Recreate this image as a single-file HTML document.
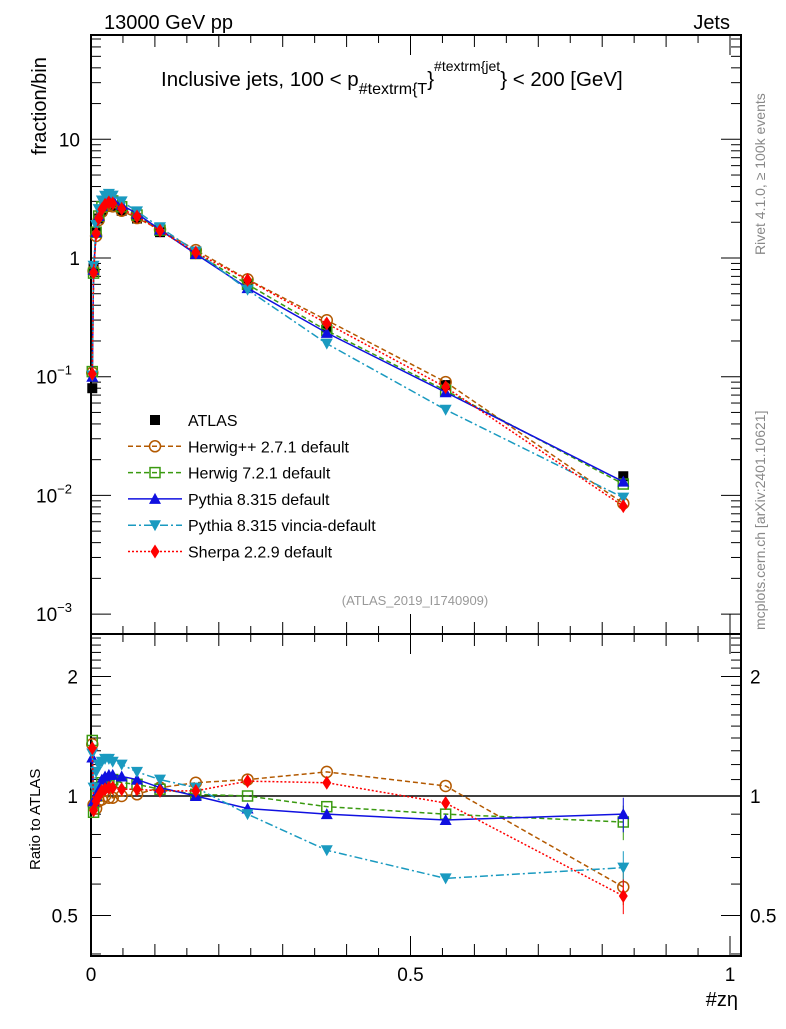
<!DOCTYPE html>
<html><head><meta charset="utf-8"><style>
body{margin:0;background:#fff;}
svg text{font-family:"Liberation Sans",sans-serif;}
</style></head><body>
<svg id="c" width="786" height="1024" viewBox="0 0 786 1024" xmlns="http://www.w3.org/2000/svg">
<text x="104" y="29" font-size="20">13000 GeV pp</text>
<text x="730" y="29" font-size="20" text-anchor="end">Jets</text>
<text x="161" y="86" font-size="20.5">Inclusive jets, 100 &lt; p<tspan font-size="16" dy="8">#textrm{T</tspan><tspan dy="-8">}</tspan><tspan font-size="14" dy="-15">#textrm{jet</tspan><tspan dy="15">} &lt; 200 [GeV]</tspan></text>
<text x="415" y="605" font-size="13" fill="#999" text-anchor="middle">(ATLAS_2019_I1740909)</text>
<text transform="translate(765,255) rotate(-90)" font-size="14" fill="#888">Rivet 4.1.0, ≥ 100k events</text>
<text transform="translate(765,630) rotate(-90)" font-size="14" fill="#888">mcplots.cern.ch [arXiv:2401.10621]</text>
<text transform="translate(46,155) rotate(-90)" font-size="20">fraction/bin</text>
<text transform="translate(40,870) rotate(-90)" font-size="15">Ratio to ATLAS</text>
<text x="738" y="1006" font-size="20" text-anchor="end">#zη</text>
<g id="g"></g>
</svg>
<script>
const xs=[0.002,0.004,0.008,0.012,0.017,0.022,0.028,0.034,0.048,0.072,0.108,0.164,0.245,0.369,0.555,0.833];
const atlas=[0.08,0.82,1.65,2.15,2.5,2.7,2.8,2.75,2.5,2.15,1.65,1.08,0.6,0.26,0.085,0.0145];
const rHpp=[1.35,0.95,0.93,0.97,0.98,1.0,0.99,0.99,1.0,1.01,1.05,1.08,1.1,1.15,1.06,0.59];
const rH7=[1.38,0.91,1.0,1.05,1.08,1.08,1.08,1.1,1.08,1.07,1.04,1.01,1.0,0.94,0.9,0.86];
const rPy=[1.25,0.97,1.0,1.05,1.1,1.12,1.13,1.13,1.12,1.1,1.05,1.0,0.93,0.9,0.87,0.9];
const rVi=[1.28,1.05,1.15,1.2,1.22,1.24,1.24,1.22,1.2,1.15,1.1,1.05,0.9,0.73,0.62,0.66];
const rSh=[1.32,0.92,0.97,1.0,1.03,1.04,1.05,1.05,1.04,1.04,1.03,1.03,1.09,1.08,0.96,0.56];
const yTicks=['10^-3','10^-2','10^-1','1','10'];
const NS='http://www.w3.org/2000/svg';
const g=document.getElementById('g');
const L=91,R=741,T=35,MB=634,RB=956;
const X=v=>91+v*639;
const Y=v=>258-118.7*Math.log10(v);
const YR=v=>796-119.5*Math.log2(v);
function mk(t,a,p){const e=document.createElementNS(NS,t);for(const k in a)e.setAttribute(k,a[k]);(p||g).appendChild(e);return e;}
let f1=mk('rect',{x:L,y:T,width:R-L,height:MB-T,fill:'none',stroke:'#000','stroke-width':2});


let f2=mk('rect',{x:L,y:MB,width:R-L,height:RB-MB,fill:'none',stroke:'#000','stroke-width':2});


for(let d=-3;d<=1;d++){for(let m=1;m<10;m++){const v=m*Math.pow(10,d);const y=Y(v);if(y<T||y>MB)continue;const len=m==1?20:10;
mk('line',{x1:L,x2:L+len,y1:y,y2:y,stroke:'#000','stroke-width':1});mk('line',{x1:R,x2:R-len,y1:y,y2:y,stroke:'#000','stroke-width':1});}}
yTicks.forEach((s,i)=>{const d=i-3;const y=Y(Math.pow(10,d));const t=mk('text',{x:d>=0?80:72,y:y+7,'font-size':19,'text-anchor':'end'});
if(d==0)t.textContent='1';else if(d==1)t.textContent='10';else{t.textContent='10';const ts=mk('tspan',{dy:-9,'font-size':13},t);ts.textContent=String(d).replace('-','−');}

});
[0.4,0.5,0.6,0.7,0.8,0.9,1,1.1,1.2,1.3,1.4,1.5,1.6,1.7,1.8,1.9,2,2.1,2.2,2.3,2.4,2.5].forEach(v=>{const y=YR(v);if(y<MB||y>RB)return;const len=(v==0.5||v==1||v==2)?20:10;
mk('line',{x1:L,x2:L+len,y1:y,y2:y,stroke:'#000'});mk('line',{x1:R,x2:R-len,y1:y,y2:y,stroke:'#000'});});
[[2,'2'],[1,'1'],[0.5,'0.5']].forEach(([v,s])=>{[[78,'end'],[750,'start']].forEach(([x,a])=>{const t=mk('text',{x:x,y:YR(v)+7,'font-size':19,'text-anchor':a});t.textContent=s;

});});
for(let i=0;i<=20;i++){const v=i*0.05;const x=X(v);const len=i%10==0?20:(i%2==0?12:8);
mk('line',{x1:x,x2:x,y1:RB,y2:RB-len,stroke:'#000'});mk('line',{x1:x,x2:x,y1:MB,y2:MB-len,stroke:'#000'});mk('line',{x1:x,x2:x,y1:T,y2:T+len,stroke:'#000'});mk('line',{x1:x,x2:x,y1:MB,y2:MB+len,stroke:'#000'});}
[[0,'0'],[0.5,'0.5'],[1,'1']].forEach(([v,s])=>{const t=mk('text',{x:X(v),y:981,'font-size':19,'text-anchor':'middle'});t.textContent=s;

});
mk('line',{x1:L,x2:R,y1:YR(1),y2:YR(1),stroke:'#000','stroke-width':1.5});
function marker(type,col,x,y,p){
 if(type=='sq')return mk('rect',{x:x-5,y:y-5,width:10,height:10,fill:col},p);
 if(type=='osq')return mk('rect',{x:x-5,y:y-5,width:10,height:10,fill:'none',stroke:col,'stroke-width':1.5},p);
 if(type=='oc')return mk('circle',{cx:x,cy:y,r:5.5,fill:'none',stroke:col,'stroke-width':1.5},p);
 if(type=='tu')return mk('path',{d:`M${x-6},${y+5}L${x+6},${y+5}L${x},${y-6}Z`,fill:col},p);
 if(type=='td')return mk('path',{d:`M${x-6},${y-5}L${x+6},${y-5}L${x},${y+6}Z`,fill:col},p);
 if(type=='di')return mk('path',{d:`M${x},${y-7}L${x+4.5},${y}L${x},${y+7}L${x-4.5},${y}Z`,fill:col},p);
}
const series=[
 {name:'Herwig++ 2.7.1 default',r:rHpp,col:'#b35900',m:'oc',dash:'5,3',id:'herwigpp'},
 {name:'Herwig 7.2.1 default',r:rH7,col:'#3a9a10',m:'osq',dash:'5,3',id:'herwig7'},
 {name:'Pythia 8.315 default',r:rPy,col:'#1010e0',m:'tu',dash:'',id:'pythia'},
 {name:'Pythia 8.315 vincia-default',r:rVi,col:'#1a9ac0',m:'td',dash:'8,3,2,3',id:'vincia'},
 {name:'Sherpa 2.2.9 default',r:rSh,col:'#ff0000',m:'di',dash:'2,2',id:'sherpa'}];
xs.forEach((x,i)=>{const m=marker('sq','#000',X(x),Y(atlas[i]));

});
series.forEach(s=>{
 const grp=mk('g',{});
 
 const pm=xs.map((x,i)=>X(x)+','+Y(atlas[i]*s.r[i])).join(' ');
 mk('polyline',{points:pm,fill:'none',stroke:s.col,'stroke-width':1.5,'stroke-dasharray':s.dash},grp);
 const pr=xs.map((x,i)=>X(x)+','+YR(s.r[i])).join(' ');
 mk('polyline',{points:pr,fill:'none',stroke:s.col,'stroke-width':1.5,'stroke-dasharray':s.dash},grp);
 xs.forEach((x,i)=>{const m1=marker(s.m,s.col,X(x),Y(atlas[i]*s.r[i]),grp);
 
 
 const m2=marker(s.m,s.col,X(x),YR(s.r[i]),grp);
 
 });
 const i=xs.length-1;mk('line',{x1:X(xs[i]),x2:X(xs[i]),y1:YR(s.r[i]*0.9),y2:YR(s.r[i]*1.1),stroke:s.col},grp);
});
const leg=mk('g',{});

const le=[{name:'ATLAS',m:'sq',col:'#000',dash:null}].concat(series);
le.forEach((s,k)=>{const y=420+k*26.3;
 if(s.dash!==null)mk('line',{x1:128,x2:182,y1:y,y2:y,stroke:s.col,'stroke-width':1.5,'stroke-dasharray':s.dash},leg);
 marker(s.m,s.col,155,y,leg);
 const t=mk('text',{x:188,y:y+6,'font-size':16},leg);t.textContent=s.name;
 
 });
</script>
</body></html>
